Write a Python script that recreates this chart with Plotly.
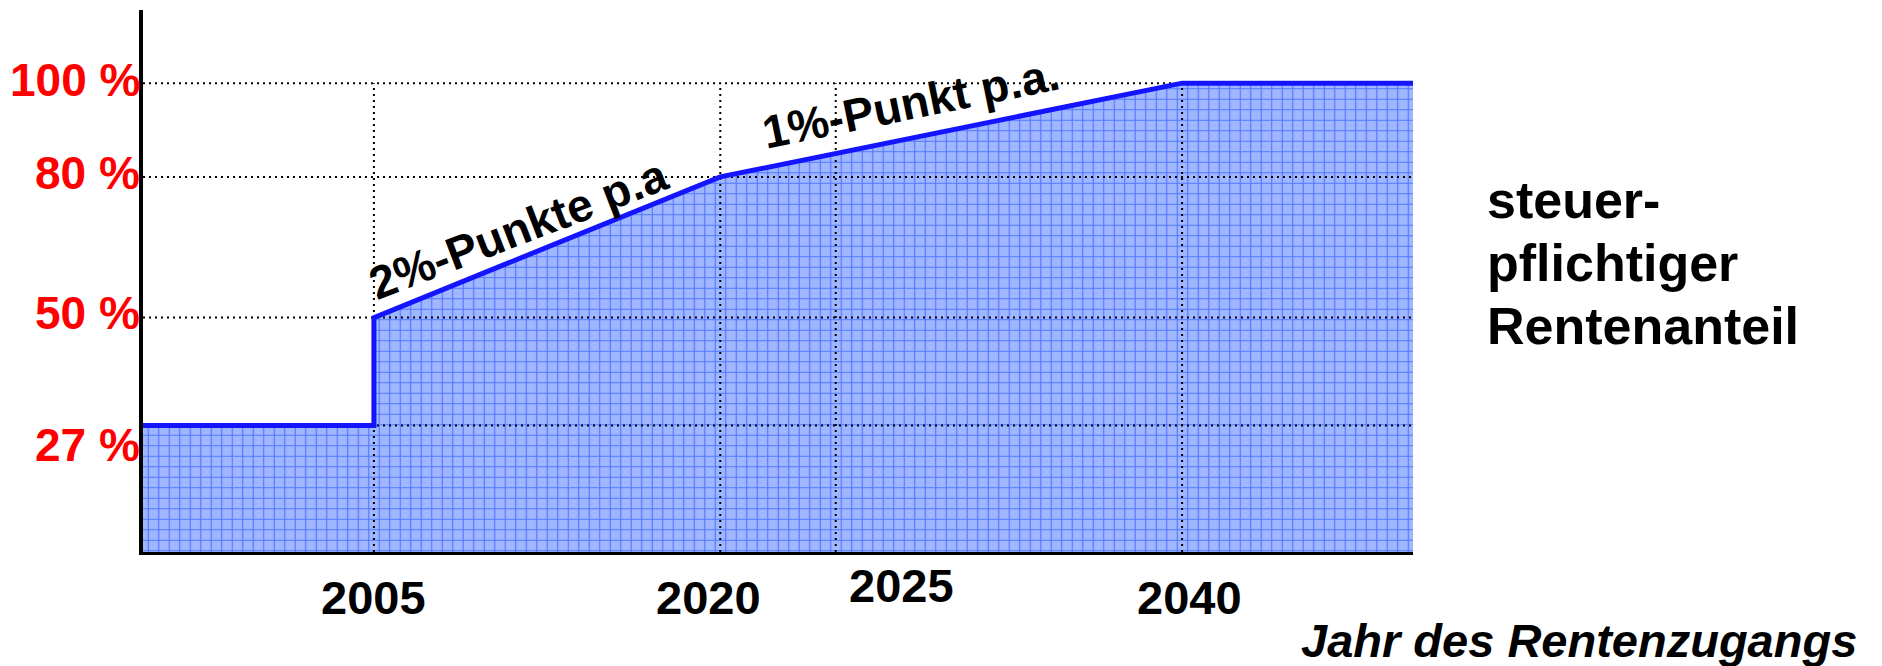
import plotly.graph_objects as go

# Besteuerungsanteil der Rente nach Jahr des Rentenzugangs
years = [1995, 2005, 2005, 2020, 2040, 2050]
shares = [27, 27, 50, 80, 100, 100]

# Markierte Jahre und Prozentstufen
year_ticks = [2005, 2020, 2025, 2040]
year_labels = ["2005", "2020", "2025", "2040"]
share_ticks = [27, 50, 80, 100]
share_labels = ["27 %", "50 %", "80 %", "100 %"]

# Beschriftung der beiden Anstiegsphasen
slope_labels = ["2%-Punkte p.a", "1%-Punkt p.a."]

# Bezeichnung der Kurve, zeilenweise
curve_title = ["steuer-", "pflichtiger", "Rentenanteil"]

x_range = [years[0], years[-1]]
y_range = [0, 115.6]

FONT = "Liberation Sans, Arial, Helvetica, sans-serif"
BLUE = "#1414ff"

fig = go.Figure()

# Schraffierte Fläche unter der Kurve
fig.add_trace(go.Scatter(
    x=years, y=shares, mode="lines", fill="tozeroy",
    line=dict(width=0, color=BLUE),
    fillcolor="#9db5ff",
    fillpattern=dict(shape="+", size=10.5, solidity=0.2,
                     fgcolor="#4f76ff", bgcolor="#a0b7ff", fillmode="replace"),
    hoverinfo="skip", showlegend=False,
))

# Gepunktete Hilfslinien
gx, gy = [], []
for v in share_ticks:
    gx += [x_range[0], x_range[1], None]
    gy += [v, v, None]
for t in year_ticks:
    gx += [t, t, None]
    gy += [0, max(share_ticks), None]
fig.add_trace(go.Scatter(
    x=gx, y=gy, mode="lines",
    line=dict(color="black", width=2, dash="2px,4px"),
    hoverinfo="skip", showlegend=False,
))

# Kurve des steuerpflichtigen Anteils
fig.add_trace(go.Scatter(
    x=years, y=shares, mode="lines",
    line=dict(color=BLUE, width=5),
    hoverinfo="skip", showlegend=False,
))

annotations = []

# Prozentbeschriftung links der y-Achse
share_offsets = {27: -20, 50: 5, 80: 4, 100: 3}
for v, lab in zip(share_ticks, share_labels):
    annotations.append(dict(
        x=0, xref="paper", y=v, yref="y", xanchor="right", yanchor="middle",
        text=lab, showarrow=False, xshift=-1, yshift=share_offsets[v],
        font=dict(family=FONT, size=46, color="#ff0000", weight="bold"),
    ))

# Jahreszahlen unter der x-Achse
year_shift = {2005: (0, -45), 2020: (-12, -45), 2025: (66, -33), 2040: (7, -45)}
for t, lab in zip(year_ticks, year_labels):
    dx, dy = year_shift[t]
    annotations.append(dict(
        x=t, xref="x", y=0, yref="paper", xanchor="center", yanchor="middle",
        text=lab, showarrow=False, xshift=dx, yshift=dy,
        font=dict(family=FONT, size=47, color="black", weight="bold"),
    ))

# Geneigte Texte entlang der Anstiegsabschnitte
segments = [(3, 2, -21, -29, 18), (4, 3, -11.5, -40, 27)]
for (i1, i0, ang, dx, dy), lab in zip(segments, slope_labels):
    annotations.append(dict(
        x=(years[i0] + years[i1]) / 2, xref="x",
        y=(shares[i0] + shares[i1]) / 2, yref="y",
        xanchor="center", yanchor="middle", textangle=ang,
        text=lab, showarrow=False, xshift=dx, yshift=dy,
        font=dict(family=FONT, size=46, color="black", weight="bold"),
    ))

# Bezeichnung der Kurve rechts, eine Zeile je Annotation
for line, ypos in zip(curve_title, [0.6494, 0.5341, 0.4170]):
    annotations.append(dict(
        x=1.0567, xref="paper", y=ypos, yref="paper",
        xanchor="left", yanchor="middle", align="left",
        text=line, showarrow=False,
        font=dict(family=FONT, size=52, color="black", weight="bold"),
    ))

# Achsentitel
annotations.append(dict(
    x=1.3512, xref="paper", y=-0.164, yref="paper",
    xanchor="right", yanchor="middle",
    text="Jahr des Rentenzugangs", showarrow=False,
    font=dict(family=FONT, size=47, color="black", weight="bold", style="italic"),
))

fig.update_layout(
    width=1882, height=666,
    margin=dict(l=143, r=469, t=10, b=114),
    paper_bgcolor="white", plot_bgcolor="white",
    showlegend=False,
    annotations=annotations,
    xaxis=dict(range=x_range, showline=True, linecolor="black", linewidth=3,
               showgrid=False, zeroline=False, showticklabels=False, ticks=""),
    yaxis=dict(range=y_range, showline=True, linecolor="black", linewidth=4,
               showgrid=False, zeroline=False, showticklabels=False, ticks=""),
)

fig.write_html("out.html")
